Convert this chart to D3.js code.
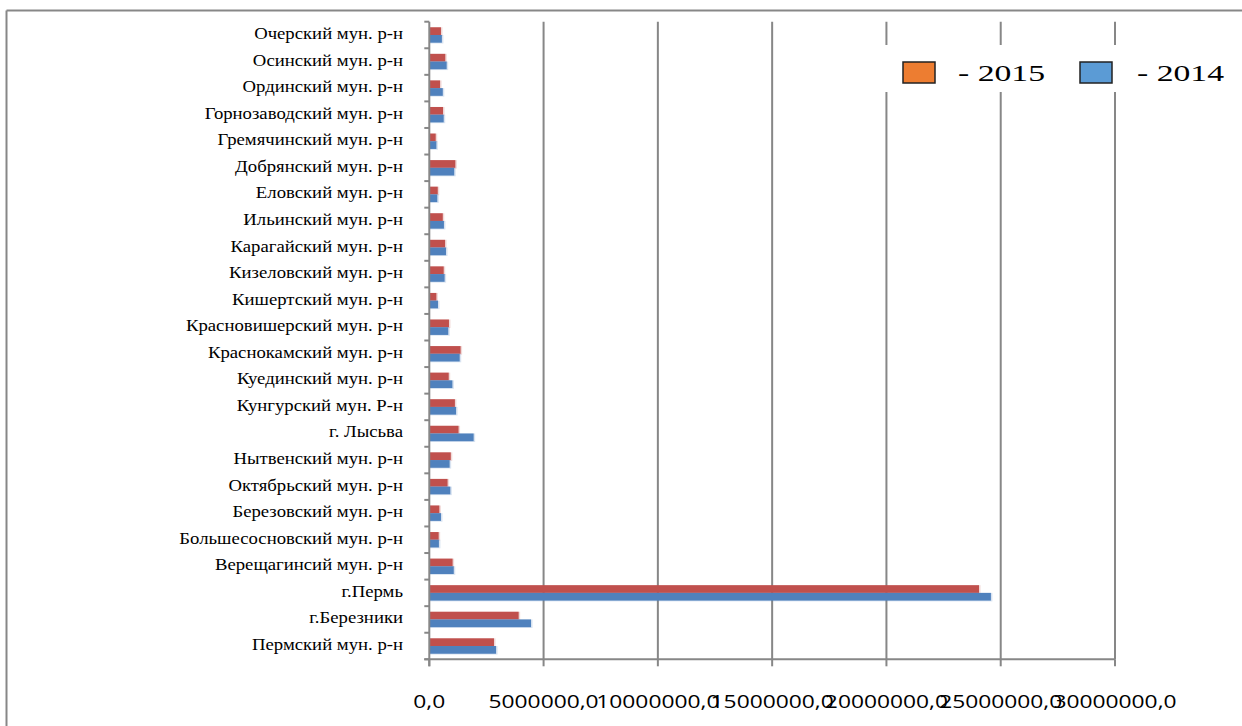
<!DOCTYPE html>
<html>
<head>
<meta charset="utf-8">
<script src="https://cdn.jsdelivr.net/npm/d3@7"></script>
<style>
  html, body { margin: 0; padding: 0; background: #fff; }
  svg { display: block; }
</style>
</head>
<body>
<svg id="chart" width="1242" height="726"></svg>
<script>
// Districts, top to bottom
const categories = [
  "Очерский мун. р-н", "Осинский мун. р-н", "Ординский мун. р-н",
  "Горнозаводский мун. р-н", "Гремячинский мун. р-н", "Добрянский мун. р-н",
  "Еловский мун. р-н", "Ильинский мун. р-н", "Карагайский мун. р-н",
  "Кизеловский мун. р-н", "Кишертский мун. р-н", "Красновишерский мун. р-н",
  "Краснокамский мун. р-н", "Куединский мун. р-н", "Кунгурский мун. Р-н",
  "г. Лысьва", "Нытвенский мун. р-н", "Октябрьский мун. р-н",
  "Березовский мун. р-н", "Большесосновский мун. р-н", "Верещагинсий мун. р-н",
  "г.Пермь", "г.Березники", "Пермский мун. р-н"
];

const values2015 = [
  510000, 700000, 470000, 600000, 280000, 1140000,
  370000, 590000, 690000, 630000, 310000, 860000,
  1370000, 850000, 1120000, 1280000, 940000, 800000,
  440000, 410000, 1020000, 24050000, 3910000, 2830000
];

const values2014 = [
  550000, 760000, 590000, 630000, 310000, 1090000,
  350000, 640000, 730000, 670000, 380000, 830000,
  1330000, 1010000, 1170000, 1940000, 890000, 920000,
  510000, 420000, 1070000, 24570000, 4450000, 2920000
];

const tickValues = [0, 5000000, 10000000, 15000000, 20000000, 25000000, 30000000];
const tickLabels = ["0,0", "5000000,0", "10000000,0", "15000000,0", "20000000,0", "25000000,0", "30000000,0"];

const seriesNames = ["- 2015", "- 2014"];
const barColors = ["#C0504D", "#4F81BD"];
const legendColors = ["#ED7D31", "#5B9BD5"];

const svg = d3.select("#chart");
const gridColor = "#878787";

const plot = { left: 429.3, right: 1115, top: 21.7, bottom: 659.3 };

const x = d3.scaleLinear().domain([0, 30000000]).range([plot.left, plot.right]);
const y = d3.scaleBand().domain(categories).range([plot.top, plot.bottom]).paddingInner(0).paddingOuter(0);
const bw = y.bandwidth();
const barH = bw * 0.29;
const barOff = bw * 0.21;

// Outer frame (top and left edges)
svg.append("line").attr("x1", 6.5).attr("x2", 1242).attr("y1", 10.5).attr("y2", 10.5)
  .attr("stroke", gridColor).attr("stroke-width", 2);
svg.append("line").attr("x1", 6.5).attr("x2", 6.5).attr("y1", 10.5).attr("y2", 726)
  .attr("stroke", gridColor).attr("stroke-width", 2);

// Vertical gridlines
svg.append("g").selectAll("line").data(tickValues.slice(1)).join("line")
  .attr("x1", d => x(d)).attr("x2", d => x(d))
  .attr("y1", plot.top).attr("y2", plot.bottom)
  .attr("stroke", gridColor).attr("stroke-width", 2);

// Bars: soft halo then solid fill
const series = [values2015, values2014];
series.forEach((vals, si) => {
  const g = svg.append("g");
  g.selectAll("rect.halo").data(vals).join("rect")
    .attr("class", "halo")
    .attr("x", x(0))
    .attr("y", (d, i) => y(categories[i]) + barOff + si * barH)
    .attr("width", d => x(d) - x(0) + 1.5)
    .attr("height", barH + 0.8)
    .attr("fill", barColors[si]).attr("opacity", 0.22);
  g.selectAll("rect.bar").data(vals).join("rect")
    .attr("class", "bar")
    .attr("x", x(0))
    .attr("y", (d, i) => y(categories[i]) + barOff + si * barH)
    .attr("width", d => x(d) - x(0))
    .attr("height", barH)
    .attr("fill", barColors[si]);
});

// Y axis line and band ticks
svg.append("line").attr("x1", plot.left).attr("x2", plot.left)
  .attr("y1", plot.top).attr("y2", plot.bottom + 7)
  .attr("stroke", gridColor).attr("stroke-width", 2);
const bounds = categories.map(c => y(c)).concat([plot.bottom]);
svg.append("g").selectAll("line").data(bounds).join("line")
  .attr("x1", plot.left - 5).attr("x2", plot.left)
  .attr("y1", d => d).attr("y2", d => d)
  .attr("stroke", gridColor).attr("stroke-width", 2);

// X axis line and ticks
svg.append("line").attr("x1", plot.left - 5).attr("x2", plot.right)
  .attr("y1", plot.bottom).attr("y2", plot.bottom)
  .attr("stroke", gridColor).attr("stroke-width", 2);
svg.append("g").selectAll("line").data(tickValues).join("line")
  .attr("x1", d => x(d)).attr("x2", d => x(d))
  .attr("y1", plot.bottom).attr("y2", plot.bottom + 7)
  .attr("stroke", gridColor).attr("stroke-width", 2);

// Category labels
svg.append("g").selectAll("text").data(categories).join("text")
  .attr("transform", d => `translate(403,${y(d) + bw / 2 + 4}) scale(1.17,1)`)
  .attr("text-anchor", "end")
  .attr("font-family", "'Liberation Serif', 'Times New Roman', serif")
  .attr("font-size", 16)
  .attr("fill", "#000")
  .text(d => d);

// X tick labels
svg.append("g").selectAll("text").data(tickValues).join("text")
  .attr("transform", d => `translate(${x(d)},708) scale(1.2,1)`)
  .attr("text-anchor", "middle")
  .attr("font-family", "'Open Sans', sans-serif")
  .attr("font-size", 19)
  .attr("fill", "#000")
  .text((d, i) => tickLabels[i]);

// Legend
const legend = svg.append("g");
legend.append("rect").attr("x", 878).attr("y", 45).attr("width", 360).attr("height", 47).attr("fill", "#fff");
const legendX = [903, 1080];
const legendTextX = [958, 1137];
seriesNames.forEach((name, i) => {
  legend.append("rect")
    .attr("x", legendX[i]).attr("y", 62).attr("width", 32).attr("height", 21)
    .attr("fill", legendColors[i]).attr("stroke", "#222").attr("stroke-width", 1.5);
  legend.append("text")
    .attr("x", legendTextX[i]).attr("y", 81)
    .attr("font-family", "'Liberation Serif', 'Times New Roman', serif")
    .attr("font-size", 23)
    .attr("textLength", 87)
    .attr("lengthAdjust", "spacingAndGlyphs")
    .attr("fill", "#000")
    .text(name);
});
</script>
</body>
</html>
